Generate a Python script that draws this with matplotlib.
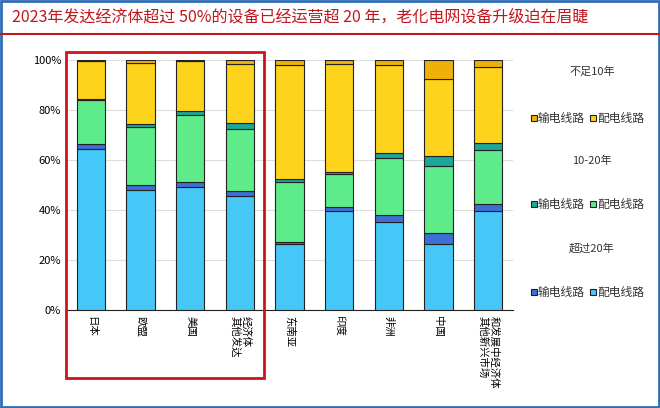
import matplotlib
matplotlib.use("Agg")
import matplotlib.pyplot as plt
from matplotlib.patches import Rectangle
import numpy as np

plt.rcParams["font.family"] = ["Noto Sans CJK JP", "Noto Sans CJK SC", "Noto Sans CJK TC", "DejaVu Sans"]

categories = ["日本", "欧盟", "美国", "经济体\n其他发达", "东南亚", "印度", "非洲", "中国", "和发展中经济体\n其他新兴市场"]
over20_dist = [64.5, 48.0, 49.3, 45.6, 26.5, 39.7, 35.3, 26.5, 39.7]
over20_trans = [1.7, 2.1, 2.0, 2.1, 0.8, 1.3, 2.5, 4.3, 2.5]
mid_dist = [17.7, 23.0, 26.9, 24.7, 23.8, 13.4, 22.9, 26.6, 21.9]
mid_trans = [0.6, 1.4, 1.6, 2.5, 1.2, 0.8, 2.0, 4.3, 2.5]
new_dist = [15.1, 24.2, 19.7, 23.6, 45.8, 43.1, 35.4, 30.5, 30.6]
new_trans = [0.4, 1.3, 0.5, 1.5, 1.9, 1.7, 1.9, 7.8, 2.8]

series = [
    (over20_dist, "#45C8F8"),
    (over20_trans, "#3D6FD6"),
    (mid_dist, "#5EEB8A"),
    (mid_trans, "#1AA89A"),
    (new_dist, "#FDD31C"),
    (new_trans, "#F0B00A"),
]

fig = plt.figure(figsize=(6.6, 4.08), dpi=100)
ax = fig.add_axes([66/660, 1-310/408, (513-66)/660, 250/408])
x = np.arange(len(categories))
bottom = np.zeros(len(categories))
for vals, c in series:
    ax.bar(x, vals, 0.57, bottom=bottom, color=c, edgecolor="#222222", linewidth=0.8, zorder=3)
    bottom += np.array(vals)

ax.set_xlim(-0.5, 8.5)
ax.set_ylim(0, 100)
ax.set_yticks(range(0, 101, 20))
ax.set_yticklabels([f"{v}%" for v in range(0, 101, 20)], fontsize=8)
ax.yaxis.grid(True, color="#dddddd", linewidth=0.8, zorder=0)
for s in ["top", "right", "left"]:
    ax.spines[s].set_visible(False)
ax.spines["bottom"].set_color("#222222")
ax.tick_params(axis="y", length=0)
ax.tick_params(axis="x", length=0, pad=4)
ax.set_xticks(x)
ax.set_xticklabels(categories, rotation=-90, fontsize=7.5, va="top", ha="center", multialignment="left", linespacing=1.1)

def leg(y, c1, c2):
    fig.patches.append(Rectangle((531/660, 1-(y+3)/408), 6/660, 6/408, transform=fig.transFigure, facecolor=c1, edgecolor="#222222", lw=0.8))
    fig.text(538/660, 1-y/408, "输电线路", fontsize=8.5, va="center", color="#333333")
    fig.patches.append(Rectangle((590/660, 1-(y+3)/408), 6/660, 6/408, transform=fig.transFigure, facecolor=c2, edgecolor="#222222", lw=0.8))
    fig.text(597/660, 1-y/408, "配电线路", fontsize=8.5, va="center", color="#333333")

fig.text(592/660, 1-72/408, "不足10年", fontsize=8, ha="center", va="center", color="#333333")
leg(118, "#F0B00A", "#FDD31C")
fig.text(592/660, 1-161/408, "10-20年", fontsize=8, ha="center", va="center", color="#333333")
leg(204, "#1AA89A", "#5EEB8A")
fig.text(592/660, 1-248/408, "超过20年", fontsize=8, ha="center", va="center", color="#333333")
leg(292, "#3D6FD6", "#45C8F8")

fig.text(12/660, 1-17/408, "2023年发达经济体超过 50%的设备已经运营超 20 年，老化电网设备升级迫在眉睫", fontsize=11.5, color="#C0161E", va="center")
fig.add_artist(plt.Line2D([0, 1], [1-34/408, 1-34/408], color="#C0161E", lw=1.5, transform=fig.transFigure))
fig.patches.append(Rectangle((0.002, 0.002), 0.996, 0.996, transform=fig.transFigure, fill=False, edgecolor="#2F6DB5", lw=2))
fig.patches.append(Rectangle((66/660, 1-378/408), (264-66)/660, (378-52)/408, transform=fig.transFigure, fill=False, edgecolor="#D0121B", lw=2))

fig.savefig("out.png", dpi=100)
